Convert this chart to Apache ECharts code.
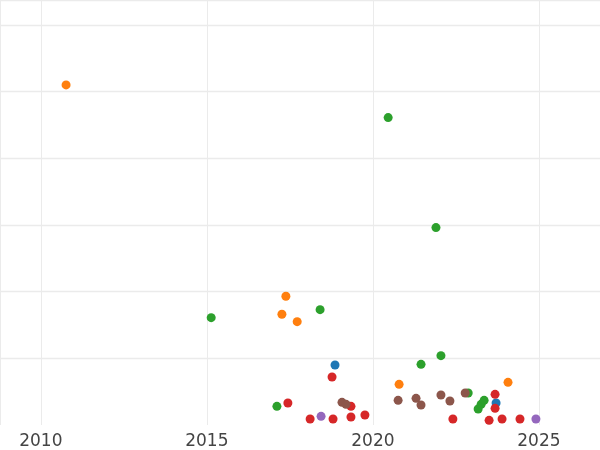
<!DOCTYPE html>
<html>
<head>
<meta charset="utf-8">
<script src="https://cdn.jsdelivr.net/npm/echarts@6/dist/echarts.min.js"></script>
<style>html,body{margin:0;padding:0;background:#fff}#chart{width:600px;height:450px}</style>
</head>
<body>
<div id="chart"></div>
<script>
// [year, value] pairs
var orangePts = [[2010.76,5.10],[2017.38,1.93],[2017.26,1.66],[2017.72,1.55],[2020.79,0.61],[2024.07,0.64]];
var greenPts = [[2020.46,4.61],[2021.90,2.96],[2015.13,1.61],[2018.41,1.73],[2021.45,0.91],[2022.05,1.04],
  [2017.11,0.28],[2022.87,0.48],[2023.17,0.24],[2023.26,0.31],[2023.35,0.37]];
var bluePts = [[2018.86,0.90],[2023.71,0.33]];
var redPts = [[2018.77,0.72],[2017.44,0.33],[2018.11,0.09],[2018.80,0.09],[2019.34,0.28],[2019.34,0.12],
  [2019.76,0.15],[2022.41,0.09],[2023.50,0.07],[2023.68,0.46],[2023.68,0.25],[2023.89,0.09],[2024.43,0.09]];
var purplePts = [[2018.44,0.13],[2024.91,0.09]];
var brownPts = [[2019.07,0.34],[2019.19,0.31],[2020.76,0.37],[2021.30,0.40],[2021.45,0.30],[2022.05,0.45],
  [2022.32,0.36],[2022.78,0.48]];

var groups = [
  {data: bluePts, color: '#1f77b4'},
  {data: orangePts, color: '#ff7f0e'},
  {data: greenPts, color: '#2ca02c'},
  {data: redPts, color: '#d62728'},
  {data: purplePts, color: '#9467bd'},
  {data: brownPts, color: '#8c564b'}
];

var chart = echarts.init(document.getElementById('chart'));
var series = [];
for (var i in groups) {
  series.push({
    type: 'scatter',
    data: groups[i].data,
    symbolSize: 9,
    itemStyle: {color: groups[i].color, opacity: 1},
    emphasis: {disabled: true}
  });
}
chart.setOption({
  animation: false,
  grid: {left: 0, right: 0, top: 0, bottom: 23, containLabel: false},
  xAxis: {
    type: 'value', min: 2008.77, max: 2026.84, splitNumber: 4,
    axisLine: {show: false}, axisTick: {show: false},
    axisLabel: {color: '#444', fontSize: 17, fontFamily: 'DejaVu Sans', margin: 8,
      showMinLabel: false, showMaxLabel: false,
      formatter: function (v) { return String(Math.round(v)); }},
    splitLine: {lineStyle: {color: '#ebebeb'}}
  },
  yAxis: {
    type: 'value', min: 0, max: 6.373, interval: 1,
    axisLine: {show: false}, axisTick: {show: false}, axisLabel: {show: false},
    splitLine: {showMinLine: false, lineStyle: {color: '#ebebeb', width: 1.3}}
  },
  series: series
});
</script>
</body>
</html>
